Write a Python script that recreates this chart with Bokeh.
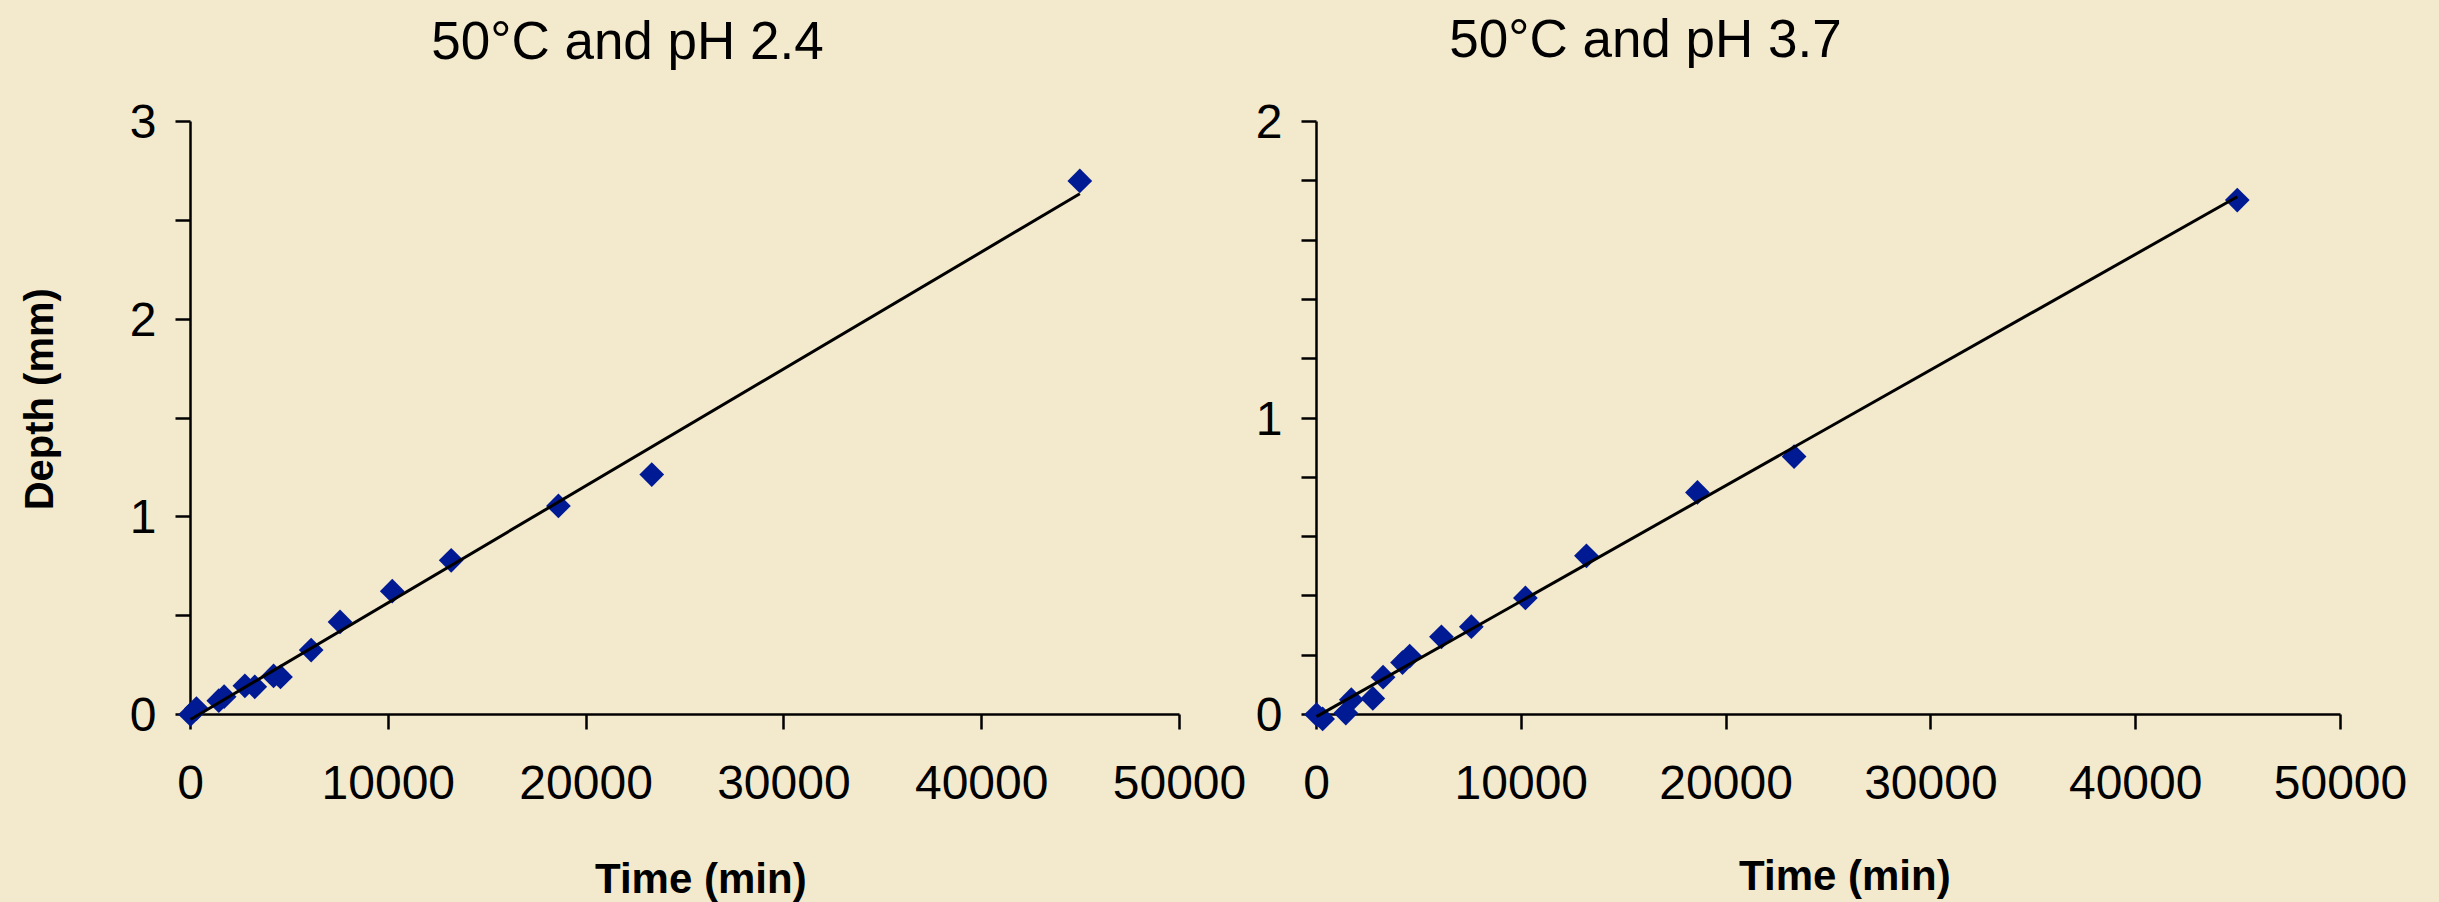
import numpy as np
from bokeh.plotting import figure
from bokeh.layouts import row
from bokeh.models import FixedTicker, Range1d
from bokeh.core.properties import value
from bokeh.embed import file_html
from bokeh.resources import INLINE

# ---- data ----
time_min = [0, 300, 1430, 1700, 2750, 3250, 4200, 4550, 6100, 7560,
            10200, 13180, 18600, 23320, 44960]
depth_ph24 = [0.0, 0.03, 0.07, 0.09, 0.145, 0.14, 0.195, 0.19, 0.326, 0.468,
              0.624, 0.78, 1.055, 1.214, 2.699]
depth_ph37 = [0.0, -0.015, 0.005, 0.05, 0.054, 0.126, 0.175, 0.197, 0.262, 0.296,
              0.393, 0.535, 0.749, 0.870, 1.735]

titles = ["50°C and pH 2.4", "50°C and pH 3.7"]
x_ticks = [0, 10000, 20000, 30000, 40000, 50000]
y_ticks_a = [0, 1, 2, 3]
y_minor_a = [0.5, 1.5, 2.5]
y_ticks_b = [0, 1, 2]
y_minor_b = [0.2, 0.4, 0.6, 0.8, 1.2, 1.4, 1.6, 1.8]
x_label = "Time (min)"
y_label = "Depth (mm)"

BG = "#F3E9CC"
MARK = "#001A94"
FONT = "Liberation Sans"


def add_text(p, x, y, text, size, bold=False, angle=0.0, baseline="alphabetic"):
    r = p.text(x=[x], y=[y], text=[text], text_font=value(FONT),
               text_font_size=value(size),
               text_font_style="bold" if bold else "normal",
               text_color="black", text_align="center",
               text_baseline=baseline, angle=angle)
    r.level = "overlay"


def make_chart(depth, y_end, y_ticks, y_minor, width, b_left, b_right,
               b_top, b_bottom):
    p = figure(width=width, height=902, output_backend="svg",
               toolbar_location=None,
               x_range=Range1d(0, 50000), y_range=Range1d(0, y_end),
               min_border_left=b_left, min_border_right=b_right,
               min_border_top=b_top, min_border_bottom=b_bottom,
               background_fill_color=BG, border_fill_color=BG,
               outline_line_color=None)
    p.styles = {"background-color": BG}
    p.grid.visible = False
    p.title.visible = False

    xa = p.xaxis[0]
    xa.ticker = FixedTicker(ticks=x_ticks)
    ya = p.yaxis[0]
    ya.ticker = FixedTicker(ticks=y_ticks, minor_ticks=y_minor)

    for ax in (xa, ya):
        ax.axis_line_width = 2.5
        ax.axis_line_color = "black"
        ax.major_tick_line_width = 2.5
        ax.minor_tick_line_width = 2.5
        ax.major_tick_line_color = "black"
        ax.minor_tick_line_color = "black"
        ax.major_tick_in = 0
        ax.major_tick_out = 15
        ax.minor_tick_in = 0
        ax.minor_tick_out = 15
        ax.major_label_text_font = FONT
        ax.major_label_text_font_size = "48px"
        ax.major_label_text_color = "black"
    xa.minor_tick_line_color = None
    xa.major_label_standoff = 36
    ya.major_label_standoff = 19

    sc = p.scatter(time_min, depth, marker="square", angle=np.pi / 4, size=17.5,
                   fill_color=MARK, line_color=None)
    sc.level = "overlay"

    # linear trendline (least squares fit of the series)
    k, b = np.polyfit(np.array(time_min, float), np.array(depth, float), 1)
    xs = np.array([min(time_min), max(time_min)], float)
    ln = p.line(xs, k * xs + b, line_color="black", line_width=3)
    ln.level = "overlay"
    return p


p1 = make_chart(depth_ph24, 3, y_ticks_a, y_minor_a,
                width=1250, b_left=190, b_right=71, b_top=117, b_bottom=187)
add_text(p1, 22093, 3.411, titles[0], "53px")
add_text(p1, 25800, -0.828, x_label, "42px", bold=True)
add_text(p1, -7634, 1.595, y_label, "40px", bold=True, angle=np.pi / 2,
         baseline="middle")

p2 = make_chart(depth_ph37, 2, y_ticks_b, y_minor_b,
                width=1189, b_left=66, b_right=99, b_top=121, b_bottom=188)
add_text(p2, 16064, 2.280, titles[1], "53px")
add_text(p2, 25800, -0.543, x_label, "42px", bold=True)

layout = row(p1, p2)
layout.spacing = 0
layout.styles = {"background-color": BG}
open("out.html", "w").write(file_html(layout, INLINE))
